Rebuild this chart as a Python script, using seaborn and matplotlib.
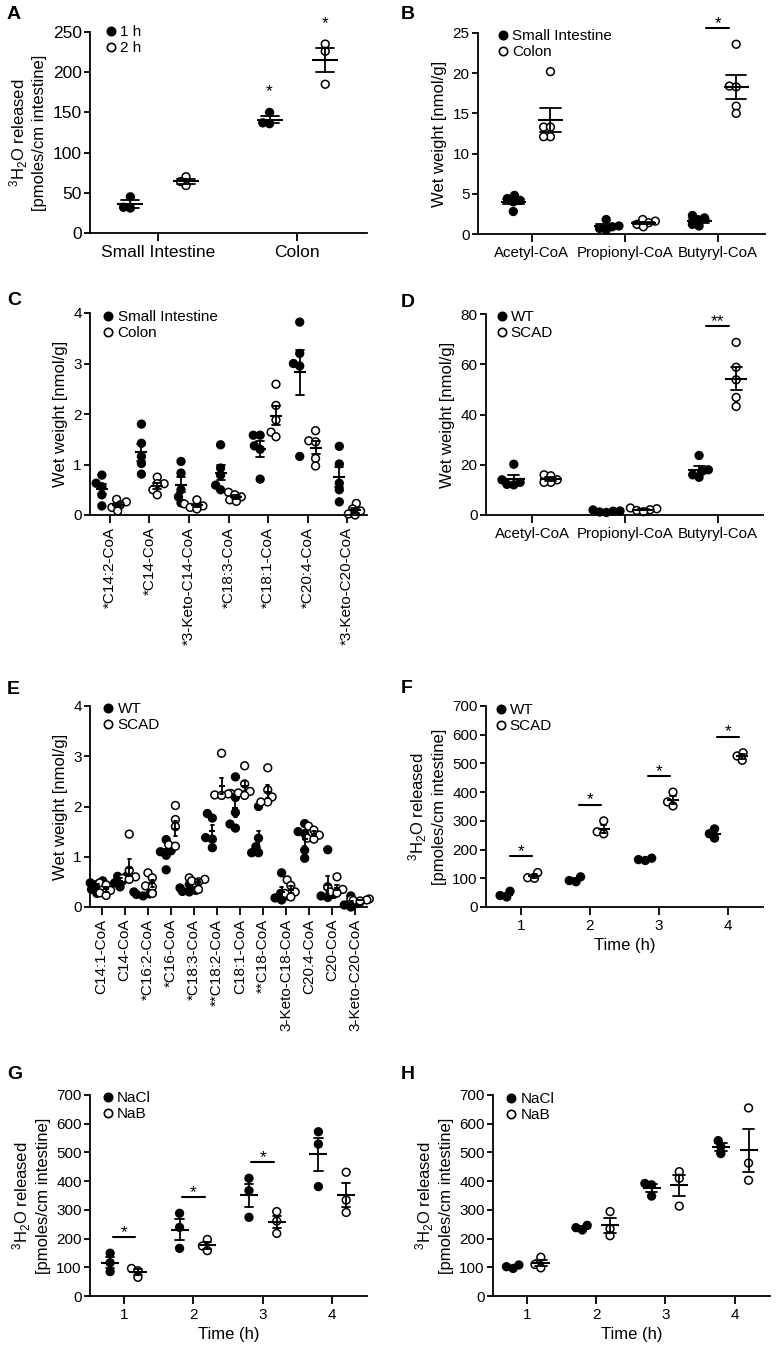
import numpy as np
import pandas as pd
import matplotlib
matplotlib.use('Agg')
import matplotlib.pyplot as plt
from matplotlib.lines import Line2D
import seaborn as sns

sns.set_theme(style='ticks', rc={'axes.edgecolor': 'black', 'xtick.color': 'black',
                                 'ytick.color': 'black', 'text.color': 'black',
                                 'axes.labelcolor': 'black'})
plt.rcParams['font.family'] = ['Liberation Sans', 'DejaVu Sans']
plt.rcParams['mathtext.fontset'] = 'custom'
plt.rcParams['mathtext.rm'] = 'Liberation Sans'
plt.rcParams['mathtext.it'] = 'Liberation Sans:italic'
plt.rcParams['mathtext.bf'] = 'Liberation Sans:bold'
plt.rcParams['mathtext.default'] = 'regular'

H3O = '$^3$H$_2$O released\n[pmoles/cm intestine]'
WET = 'Wet weight [nmol/g]'

# A: 3H2O release, small intestine vs colon
a_cats = ['Small Intestine', 'Colon']
a_groups = ['1 h', '2 h']
a_1h = [[45, 31, 32], [150, 136, 137]]
a_2h = [[70, 59, 64], [235, 226, 185]]

# B: short chain acyl-CoA, small intestine vs colon
b_cats = ['Acetyl-CoA', 'Propionyl-CoA', 'Butyryl-CoA']
b_groups = ['Small Intestine', 'Colon']
b_si = [[4.8, 4.4, 4.2, 4.0, 2.8], [1.8, 1.0, 0.9, 0.7, 0.5], [2.3, 2.0, 1.8, 1.2, 1.0]]
b_colon = [[20.2, 13.3, 13.3, 12.1, 12.1], [1.8, 1.6, 1.4, 1.2, 0.9], [23.6, 18.4, 18.3, 15.9, 15.0]]

# C: long chain acyl-CoA, small intestine vs colon
c_cats = ['*C14:2-CoA', '*C14-CoA', '*3-Keto-C14-CoA', '*C18:3-CoA', '*C18:1-CoA',
          '*C20:4-CoA', '*3-Keto-C20-CoA']
c_si = [[0.79, 0.63, 0.56, 0.40, 0.18],
        [1.80, 1.42, 1.16, 1.02, 0.81],
        [1.06, 0.83, 0.50, 0.36, 0.24],
        [1.39, 0.93, 0.79, 0.59, 0.50],
        [1.58, 1.58, 1.37, 1.30, 0.71],
        [3.82, 3.20, 3.00, 2.95, 1.16],
        [1.36, 1.01, 0.63, 0.50, 0.26]]
c_colon = [[0.31, 0.26, 0.20, 0.15, 0.08],
           [0.75, 0.62, 0.62, 0.50, 0.40],
           [0.30, 0.22, 0.18, 0.15, 0.12],
           [0.45, 0.40, 0.36, 0.30, 0.27],
           [2.59, 2.17, 1.88, 1.64, 1.55],
           [1.67, 1.47, 1.45, 1.12, 0.97],
           [0.23, 0.12, 0.08, 0.02, 0.00]]

# D: short chain acyl-CoA, WT vs SCAD
d_groups = ['WT', 'SCAD']
d_wt = [[20.2, 14.0, 13.0, 12.2, 12.0], [2.0, 1.6, 1.5, 1.2, 1.0], [23.7, 18.0, 17.4, 16.0, 15.0]]
d_scad = [[16.0, 15.6, 14.0, 13.0, 13.0], [2.8, 2.5, 2.1, 1.8, 1.3], [68.7, 58.8, 53.8, 46.8, 43.2]]

# E: long chain acyl-CoA, WT vs SCAD
e_cats = ['C14:1-CoA', 'C14-CoA', '*C16:2-CoA', '*C16-CoA', '*C18:3-CoA', '**C18:2-CoA',
          'C18:1-CoA', '**C18-CoA', '3-Keto-C18-CoA', 'C20:4-CoA', 'C20-CoA', '3-Keto-C20-CoA']
e_wt = [[0.52, 0.48, 0.45, 0.35, 0.27],
        [0.62, 0.61, 0.52, 0.48, 0.40],
        [0.30, 0.28, 0.26, 0.25, 0.22],
        [1.34, 1.12, 1.10, 1.03, 0.74],
        [0.45, 0.38, 0.33, 0.31, 0.30],
        [1.86, 1.77, 1.38, 1.35, 1.18],
        [2.59, 2.18, 1.88, 1.65, 1.57],
        [2.00, 1.37, 1.20, 1.08, 1.08],
        [0.68, 0.27, 0.22, 0.18, 0.14],
        [1.66, 1.50, 1.46, 1.13, 0.97],
        [1.14, 0.40, 0.25, 0.22, 0.19],
        [0.22, 0.10, 0.07, 0.04, 0.00]]
e_scad = [[0.48, 0.44, 0.33, 0.28, 0.23],
          [1.45, 0.73, 0.60, 0.57, 0.55],
          [0.68, 0.58, 0.42, 0.40, 0.27],
          [2.02, 1.74, 1.60, 1.24, 1.21],
          [0.58, 0.55, 0.52, 0.50, 0.35],
          [3.06, 2.26, 2.25, 2.23, 2.22],
          [2.81, 2.45, 2.30, 2.27, 2.22],
          [2.77, 2.33, 2.19, 2.09, 2.09],
          [0.54, 0.43, 0.30, 0.27, 0.20],
          [1.61, 1.53, 1.43, 1.37, 1.35],
          [0.60, 0.40, 0.35, 0.30, 0.28],
          [0.16, 0.15, 0.14, 0.13, 0.12]]

# F-H: time course
t_cats = ['1', '2', '3', '4']
f_wt = [[55, 40, 35], [105, 92, 88], [170, 165, 162], [272, 255, 240]]
f_scad = [[120, 102, 100], [300, 262, 255], [400, 366, 352], [537, 526, 511]]
n_groups = ['NaCl', 'NaB']
g_nacl = [[149, 116, 85], [288, 239, 166], [410, 367, 274], [572, 529, 381]]
g_nab = [[96, 88, 65], [197, 174, 158], [294, 261, 218], [431, 334, 291]]
h_nacl = [[108, 102, 96], [246, 238, 230], [392, 387, 348], [541, 520, 496]]
h_nab = [[135, 110, 98], [294, 234, 210], [433, 410, 313], [655, 463, 403]]

# significance marks (category index, text)
a_stars = [(1, 0, '*'), (1, 1, '*')]
b_sig = [(2, '*')]
d_sig = [(2, '**')]
f_sig = [(0, '*'), (1, '*'), (2, '*'), (3, '*')]
g_sig = [(0, '*'), (1, '*'), (2, '*')]

W, H = 776, 1360
SWARM_SIZE = 3.6   # spacing used for the swarm layout (points overlap like GraphPad)
DOT_SIZE = 5.6     # drawn marker size
fig = plt.figure(figsize=(W / 100, H / 100), dpi=100)


def add_ax(l, t, r, b):
    return fig.add_axes([l / W, 1 - b / H, (r - l) / W, (b - t) / H])


def to_long(cats, groups, series):
    rows = []
    for g, vals in zip(groups, series):
        for c, v in zip(cats, vals):
            for y in v:
                rows.append({'cat': c, 'group': g, 'value': y})
    return pd.DataFrame(rows)


def draw(ax, cats, groups, series, ylim, ystep, ylabel, xlim, fs=11, tfs=11,
         mean_w=16, cap=0.15, rot=0, leg=(0.05, 1.02), xlabel=''):
    df = to_long(cats, groups, series)
    sns.swarmplot(data=df, x='cat', y='value', hue='group', order=cats, hue_order=groups,
                  palette={groups[0]: 'black', groups[1]: 'white'}, dodge=True, size=SWARM_SIZE,
                  edgecolor='black', linewidth=1.1, legend=False, warn_thresh=1, ax=ax)
    sns.pointplot(data=df, x='cat', y='value', hue='group', order=cats, hue_order=groups,
                  palette={g: 'black' for g in groups}, dodge=0.4, errorbar='se',
                  capsize=cap, linestyle='none', marker='_', markersize=mean_w,
                  markeredgewidth=1.5, err_kws={'linewidth': 1.3}, legend=False, ax=ax)
    for coll in ax.collections:
        coll.set_clip_on(False)
        coll.set_zorder(2)
    for ln in ax.lines:
        ln.set_clip_on(False)
        ln.set_zorder(3)
    ax.set_xlim(*xlim)
    ax.set_ylim(0, ylim)
    ax.set_yticks(np.arange(0, ylim + ystep / 2, ystep))
    ax.set_ylabel(ylabel, fontsize=12)
    ax.set_xlabel(xlabel, fontsize=12)
    sns.despine(ax=ax)
    for s in ('left', 'bottom'):
        ax.spines[s].set_linewidth(1.3)
    ax.tick_params(axis='y', width=1.3, length=4, labelsize=tfs, pad=2)
    ax.tick_params(axis='x', width=1.3, length=5.5, labelsize=fs, labelrotation=rot, pad=3)
    handles = [Line2D([], [], marker='o', linestyle='none', markersize=6,
                      markerfacecolor=fc, markeredgecolor='black', markeredgewidth=1.2)
               for fc in ('black', 'white')]
    ax.legend(handles, groups, loc='upper left', bbox_to_anchor=leg, frameon=False,
              fontsize=11, handlelength=0.6, handletextpad=0.3, labelspacing=0.15,
              borderpad=0, borderaxespad=0)
    return df


def sig_lines(ax, series, marks, ylim, half):
    for idx, txt in marks:
        top = max(max(s[idx]) for s in series) + 0.08 * ylim
        ax.plot([idx - half, idx + half], [top, top], color='black', lw=1.5, clip_on=False)
        ax.annotate(txt, (idx, top), xytext=(0, -2), textcoords='offset points',
                    ha='center', va='bottom', fontsize=12.5, annotation_clip=False)


axes = []

# A
ax = add_ax(90, 32, 367, 233)
axes.append(ax)
draw(ax, a_cats, a_groups, [a_1h, a_2h], 250, 50, H3O, (-0.49, 1.5), fs=12.5, tfs=12.5,
     mean_w=19, cap=0.13, leg=(0.058, 1.035))
for ci, gi, txt in a_stars:
    top = max([a_1h, a_2h][gi][ci]) + 0.085 * 250
    ax.annotate(txt, (ci - 0.2 + 0.4 * gi, top), xytext=(0, -3), textcoords='offset points',
                ha='center', va='bottom', fontsize=12.5, annotation_clip=False)

# B
ax = add_ax(478, 33, 765, 234)
axes.append(ax)
draw(ax, b_cats, b_groups, [b_si, b_colon], 25, 5, WET, (-0.58, 2.51), fs=10.8,
     mean_w=18, cap=0.22, leg=(0.07, 1.02))
sig_lines(ax, [b_si, b_colon], b_sig, 25, 0.125)

# C
ax = add_ax(90, 313, 367, 515)
axes.append(ax)
draw(ax, c_cats, b_groups, [c_si, c_colon], 4, 1, WET, (-0.5, 6.5),
     mean_w=8, cap=0.2, rot=90, leg=(0.05, 1.015))

# D
ax = add_ax(486, 314, 763, 515)
axes.append(ax)
draw(ax, b_cats, d_groups, [d_wt, d_scad], 80, 20, WET, (-0.5, 2.49), fs=10.8,
     mean_w=16, cap=0.12, leg=(0.04, 1.02))
sig_lines(ax, [d_wt, d_scad], d_sig, 80, 0.12)

# E
ax = add_ax(90, 706, 367, 907)
axes.append(ax)
draw(ax, e_cats, d_groups, [e_wt, e_scad], 4, 1, WET, (-0.5, 11.5),
     mean_w=4.5, cap=0.15, rot=90, leg=(0.05, 1.02))

# F
ax = add_ax(486, 706, 763, 907)
axes.append(ax)
draw(ax, t_cats, d_groups, [f_wt, f_scad], 700, 100, H3O, (-0.5, 3.5),
     mean_w=8, cap=0.08, leg=(0.036, 1.015), xlabel='Time (h)')
sig_lines(ax, [f_wt, f_scad], f_sig, 700, 0.16)

# G
ax = add_ax(90, 1095, 367, 1296)
axes.append(ax)
draw(ax, t_cats, n_groups, [g_nacl, g_nab], 700, 100, H3O, (-0.49, 3.5),
     mean_w=13, cap=0.12, leg=(0.047, 1.02), xlabel='Time (h)')
sig_lines(ax, [g_nacl, g_nab], g_sig, 700, 0.165)

# H
ax = add_ax(493, 1095, 770, 1296)
axes.append(ax)
draw(ax, t_cats, n_groups, [h_nacl, h_nab], 700, 100, H3O, (-0.49, 3.51),
     mean_w=13, cap=0.17, leg=(0.05, 1.015), xlabel='Time (h)')

for letter, x, y in [('A', 7, 6), ('B', 401, 6), ('C', 7, 292), ('D', 401, 294),
                     ('E', 7, 681), ('F', 401, 680), ('G', 7, 1066), ('H', 401, 1066)]:
    fig.text(x / W, 1 - y / H, letter, fontsize=14, fontweight='bold', va='top', ha='left')

# lay the swarms out with the small size, then freeze them and draw bigger dots
fig.canvas.draw()
for ax in axes:
    for coll in ax.collections:
        if 'draw' in vars(coll):
            del coll.draw
        coll.set_sizes([DOT_SIZE ** 2])

fig.savefig('out.png', dpi=100)
